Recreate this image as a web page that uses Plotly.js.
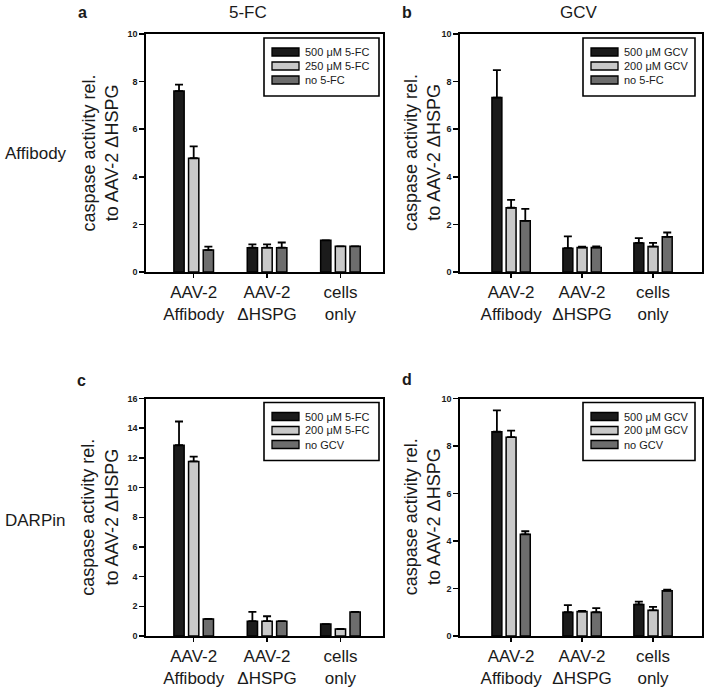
<!DOCTYPE html>
<html>
<head>
<meta charset="utf-8">
<script src="https://cdn.plot.ly/plotly-3.0.1.min.js"></script>
<style>html,body{margin:0;padding:0;background:#fff;}#chart{width:705px;height:690px;}</style>
</head>
<body>
<div id="chart"></div>
<script>
// ---------- data ----------
const categories = ['AAV-2<br>Affibody', 'AAV-2<br>ΔHSPG', 'cells<br>only'];

// panel a (5-FC, Affibody)
const aNames = ['500 μM 5-FC', '250 μM 5-FC', 'no 5-FC'];
const aHigh = [7.6, 1.02, 1.33];   const aHighErr = [0.27, 0.14, 0.0];
const aMid  = [4.78, 1.02, 1.08];  const aMidErr  = [0.5, 0.14, 0.0];
const aNone = [0.92, 1.02, 1.08];  const aNoneErr = [0.15, 0.22, 0.0];

// panel b (GCV, Affibody)
const bNames = ['500 μM GCV', '200 μM GCV', 'no 5-FC'];
const bHigh = [7.33, 1.0, 1.22];   const bHighErr = [1.15, 0.5, 0.2];
const bMid  = [2.7, 1.03, 1.07];   const bMidErr  = [0.33, 0.03, 0.15];
const bNone = [2.15, 1.03, 1.48];  const bNoneErr = [0.5, 0.05, 0.18];

// panel c (5-FC, DARPin)
const cNames = ['500 μM 5-FC', '200 μM 5-FC', 'no GCV'];
const cHigh = [12.85, 1.0, 0.8];   const cHighErr = [1.6, 0.63, 0.0];
const cMid  = [11.76, 1.0, 0.47];  const cMidErr  = [0.32, 0.33, 0.0];
const cNone = [1.15, 1.0, 1.62];   const cNoneErr = [0.0, 0.0, 0.0];

// panel d (GCV, DARPin)
const dNames = ['500 μM GCV', '200 μM GCV', 'no GCV'];
const dHigh = [8.6, 1.0, 1.33];    const dHighErr = [0.9, 0.3, 0.12];
const dMid  = [8.37, 1.03, 1.08];  const dMidErr  = [0.28, 0.03, 0.15];
const dNone = [4.28, 1.0, 1.9];    const dNoneErr = [0.13, 0.17, 0.05];

const yTicks = [0, 2, 4, 6, 8, 10, 12, 14, 16];

// ---------- styling / layout ----------
const W = 705, H = 690;
const px = x => x / W;
const py = y => 1 - y / H;
const fillColors = ['#1b1b1b', '#c9c9c9', '#6d6d6d'];
const FONT = 'Arial, "Liberation Sans", sans-serif';
const INK = '#1a1a1a';

const panels = [
  {id: '',  names: aNames, vals: [aHigh, aMid, aNone], errs: [aHighErr, aMidErr, aNoneErr],
   box: [146, 383, 34, 272], xr: [-0.65, 2.58], ymax: 10, leg: [264, 379], titleX: 99.5},
  {id: '2', names: bNames, vals: [bHigh, bMid, bNone], errs: [bHighErr, bMidErr, bNoneErr],
   box: [460, 702, 34, 272], xr: [-0.72, 2.69], ymax: 10, leg: [583, 695], titleX: 422},
  {id: '3', names: cNames, vals: [cHigh, cMid, cNone], errs: [cHighErr, cMidErr, cNoneErr],
   box: [146, 383, 398.5, 636], xr: [-0.65, 2.58], ymax: 16, leg: [264, 379], titleX: 99.5},
  {id: '4', names: dNames, vals: [dHigh, dMid, dNone], errs: [dHighErr, dMidErr, dNoneErr],
   box: [460, 702, 398.5, 636], xr: [-0.72, 2.69], ymax: 10, leg: [583, 695], titleX: 422}
];

const traces = [];
const layout = {
  width: W, height: H,
  margin: {l: 0, r: 0, t: 0, b: 0},
  paper_bgcolor: '#fff', plot_bgcolor: '#fff',
  showlegend: false,
  barmode: 'group', bargap: 0.4, bargroupgap: 0.3,
  font: {family: FONT, color: INK},
  annotations: [], shapes: []
};

panels.forEach(p => {
  const [l, r, t, b] = p.box;
  for (let k = 0; k < 3; k++) {
    traces.push({
      type: 'bar', x: categories, y: p.vals[k], name: p.names[k],
      xaxis: 'x' + p.id, yaxis: 'y' + p.id,
      marker: {color: fillColors[k], line: {color: '#000', width: 1.5}},
      error_y: {type: 'data', array: p.errs[k], symmetric: false,
                arrayminus: p.errs[k].map(() => 0),
                color: '#000', thickness: 1.8, width: 4},
      hoverinfo: 'skip'
    });
  }
  layout['xaxis' + p.id] = {
    domain: [px(l), px(r)], anchor: 'y' + p.id, type: 'category',
    range: p.xr, showline: true, linecolor: '#000', linewidth: 1.8, mirror: true,
    ticks: 'outside', ticklen: 4, tickwidth: 1.5, tickcolor: '#000',
    showgrid: false, zeroline: false, fixedrange: true,
    tickfont: {family: FONT, size: 17, color: INK}
  };
  layout['yaxis' + p.id] = {
    domain: [py(b), py(t)], anchor: 'x' + p.id,
    range: [0, p.ymax], tickvals: yTicks.filter(v => v <= p.ymax),
    showline: true, linecolor: '#000', linewidth: 1.8, mirror: true,
    ticks: 'outside', ticklen: 5, tickwidth: 1.5, tickcolor: '#000',
    showgrid: false, zeroline: false, fixedrange: true,
    tickfont: {family: FONT, size: 9, color: INK, weight: 'bold'}
  };
  // y-axis title
  layout.annotations.push({
    xref: 'paper', yref: 'paper', x: px(p.titleX), y: py((t + b) / 2),
    text: 'caspase activity rel.<br>to AAV-2 ΔHSPG', textangle: -90,
    showarrow: false, xanchor: 'center', yanchor: 'middle',
    font: {family: FONT, size: 18, color: INK}
  });
  // legend box
  const [ll, lr] = p.leg;
  layout.shapes.push({type: 'rect', xref: 'paper', yref: 'paper',
    x0: px(ll), x1: px(lr), y0: py(t + 62), y1: py(t + 4),
    line: {color: '#000', width: 1.6}, fillcolor: '#fff', layer: 'above'});
  for (let k = 0; k < 3; k++) {
    const cy = t + 18 + 14 * k;
    layout.shapes.push({type: 'rect', xref: 'paper', yref: 'paper',
      x0: px(ll + 8), x1: px(ll + 35), y0: py(cy + 4), y1: py(cy - 4),
      line: {color: '#000', width: 1.3}, fillcolor: fillColors[k], layer: 'above'});
    layout.annotations.push({xref: 'paper', yref: 'paper',
      x: px(ll + 39), y: py(cy), text: p.names[k], showarrow: false,
      xanchor: 'left', yanchor: 'middle',
      font: {family: FONT, size: 11, color: INK}});
  }
});

// panel letters, column titles, row labels
const textAnn = (x, y, text, size, extra) => Object.assign({
  xref: 'paper', yref: 'paper', x: px(x), y: py(y), text: text, showarrow: false,
  xanchor: 'center', yanchor: 'middle', font: {family: FONT, size: size, color: INK}
}, extra || {});
layout.annotations.push(
  textAnn(82, 12, '<b>a</b>', 16),
  textAnn(407, 12, '<b>b</b>', 16),
  textAnn(81, 380, '<b>c</b>', 16),
  textAnn(407, 379, '<b>d</b>', 16),
  textAnn(248, 12, '5-FC', 17),
  textAnn(579, 12, 'GCV', 17),
  textAnn(3, 154, 'Affibody', 17, {xanchor: 'left'}),
  textAnn(3, 520, 'DARPin', 17, {xanchor: 'left'})
);

Plotly.newPlot('chart', traces, layout, {staticPlot: true, displayModeBar: false});
</script>
</body>
</html>
